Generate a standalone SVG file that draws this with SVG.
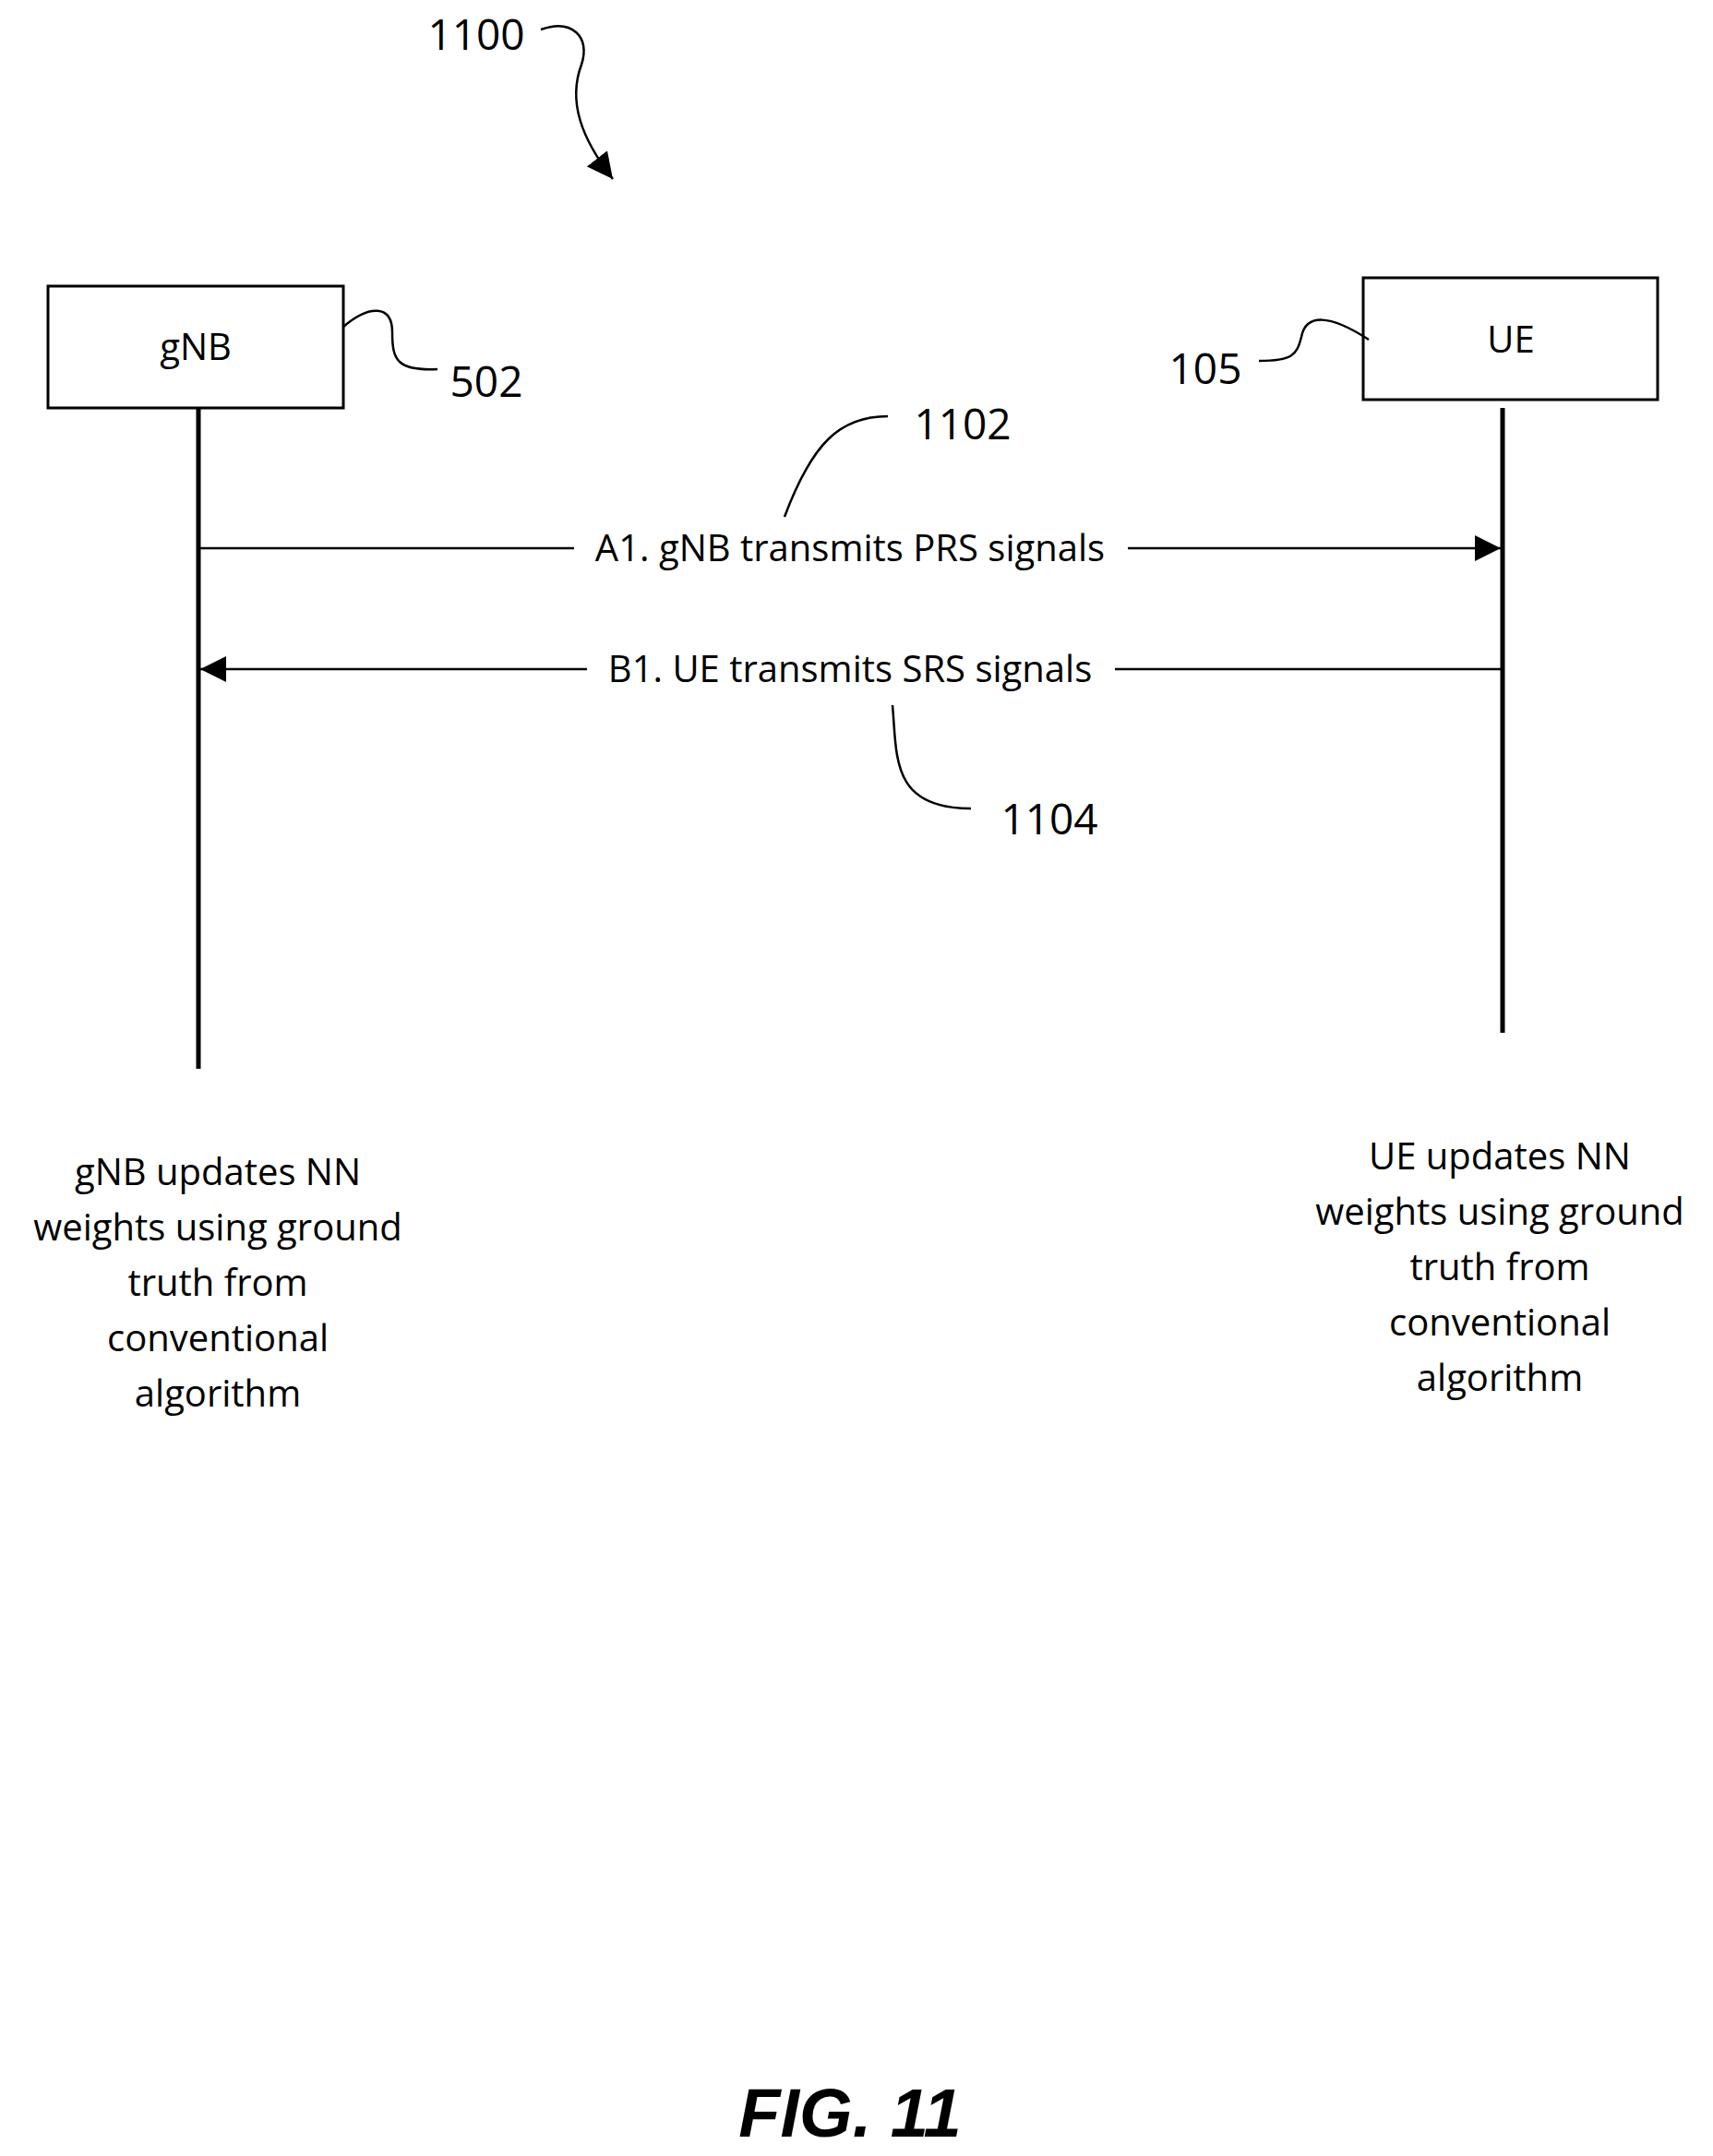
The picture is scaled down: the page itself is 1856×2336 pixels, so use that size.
<svg xmlns="http://www.w3.org/2000/svg" width="1856" height="2336" viewBox="0 0 1856 2336">
<style>
text{font-family:"Open Sans","Liberation Sans",sans-serif;fill:#000}
.t{font-size:40px}
.n{font-size:46px}
.box{fill:#fff;stroke:#000;stroke-width:3}
.ln{stroke:#000;stroke-width:5;fill:none}
.c{stroke:#000;stroke-width:2.5;fill:none}
</style>
<defs>
<marker id="ah" viewBox="0 0 10 10" refX="10" refY="5" markerWidth="9" markerHeight="9" markerUnits="userSpaceOnUse" orient="auto"><path d="M0,0L10,5L0,10z" fill="#000"/></marker>
<marker id="ah2" viewBox="0 0 10 10" refX="10" refY="5" markerWidth="28" markerHeight="28" markerUnits="userSpaceOnUse" orient="auto"><path d="M0,0L10,5L0,10z" fill="#000"/></marker>
</defs>
<g id="title">
<text class="n" x="516" y="54" text-anchor="middle">1100</text>
<path class="c" d="M586,32 C620,20 640,40 630,70 C615,110 630,150 664,194" marker-end="url(#ah2)"/>
</g>
<g id="gnb">
<rect class="box" x="52" y="310" width="320" height="132"/>
<text class="t" x="212" y="390" text-anchor="middle">gNB</text>
<path class="c" d="M372,354 C400,330 425,330 425,360 C425,390 430,402 474,400"/>
<text class="n" x="527" y="430" text-anchor="middle">502</text>
<line class="ln" x1="215" y1="442" x2="215" y2="1158"/>
</g>
<g id="ue">
<rect class="box" x="1477" y="301" width="319" height="132"/>
<text class="t" x="1637" y="382" text-anchor="middle">UE</text>
<path class="c" d="M1364,391 C1400,391 1405,385 1410,365 C1415,340 1440,340 1483,368"/>
<text class="n" x="1306" y="416" text-anchor="middle">105</text>
<line class="ln" x1="1628" y1="442" x2="1628" y2="1119"/>
</g>
<g id="connectors">
<line class="c" x1="215" y1="594" x2="1626" y2="594" stroke-width="3" marker-end="url(#ah2)"/>
<line class="c" x1="1628" y1="725" x2="217" y2="725" stroke-width="3" marker-end="url(#ah2)"/>
<rect x="622" y="570" width="600" height="46" fill="#fff"/>
<rect x="636" y="700" width="572" height="46" fill="#fff"/>
<text class="t" x="921" y="608" text-anchor="middle">A1. gNB transmits PRS signals</text>
<text class="t" x="921" y="739" text-anchor="middle">B1. UE transmits SRS signals</text>
<path class="c" d="M850,560 C880,480 910,451 962,451"/>
<text class="n" x="1043" y="476" text-anchor="middle">1102</text>
<path class="c" d="M967,764 C972,820 965,876 1052,876"/>
<text class="n" x="1137" y="904" text-anchor="middle">1104</text>
</g>
<g id="notes">
<text class="t" text-anchor="middle"><tspan x="236" y="1284">gNB updates NN</tspan><tspan x="236" y="1344">weights using ground</tspan><tspan x="236" y="1404">truth from</tspan><tspan x="236" y="1464">conventional</tspan><tspan x="236" y="1524">algorithm</tspan></text>
<text class="t" text-anchor="middle"><tspan x="1625" y="1267">UE updates NN</tspan><tspan x="1625" y="1327">weights using ground</tspan><tspan x="1625" y="1387">truth from</tspan><tspan x="1625" y="1447">conventional</tspan><tspan x="1625" y="1507">algorithm</tspan></text>
</g>
<text x="921" y="2315" text-anchor="middle" style="font-family:'Liberation Sans',sans-serif;font-size:74px;font-weight:bold;font-style:italic">FIG. 11</text>
</svg>
